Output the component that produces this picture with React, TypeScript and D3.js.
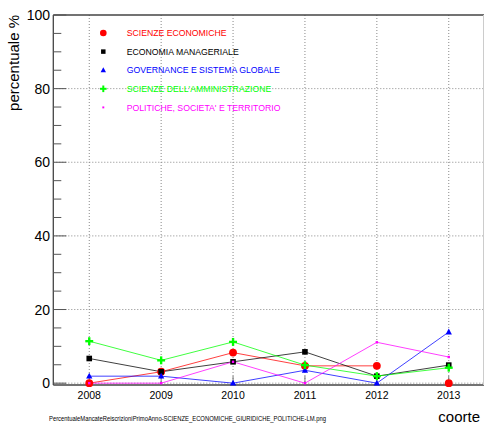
import React from "react";
import * as d3 from "d3";

const years = [2008, 2009, 2010, 2011, 2012, 2013];
const seriesNames = [
  "SCIENZE ECONOMICHE",
  "ECONOMIA MANAGERIALE",
  "GOVERNANCE E SISTEMA GLOBALE",
  "SCIENZE DELL'AMMINISTRAZIONE",
  "POLITICHE, SOCIETA' E TERRITORIO",
];
const seriesColors = ["#ff0000", "#000000", "#0000ff", "#00ff00", "#ff00ff"];
const seriesMarkers = ["circle", "square", "triangle", "cross", "star"];
const scienzeEconomiche = [0, 3.1, 8.3, 4.7, 4.7, 0];
const economiaManageriale = [6.7, 3.1, 5.8, 8.5, 1.9, 4.9];
const governance = [1.9, 1.9, 0, 3.5, 0, 13.9];
const scienzeAmministrazione = [11.4, 6.2, 11.2, 4.9, 1.9, 4.2];
const politiche = [0, 0, 5.8, 0, 11.1, 7.1];
// whether the line segment leading into each point is drawn
const scienzeEconomicheConnected = [true, true, true, true, true, false];
const allConnected = [true, true, true, true, true, true];
const seriesValues = [scienzeEconomiche, economiaManageriale, governance, scienzeAmministrazione, politiche];
const seriesConnected = [scienzeEconomicheConnected, allConnected, allConnected, allConnected, allConnected];
const yTicks = [0, 20, 40, 60, 80, 100];
const yMinorTicks = d3.range(0, 101, 5);

const W = 484;
const H = 424;
const left = 53.3;
const right = 484.7;
const top = 15;
const bottom = 385;

const FONT = "'Liberation Sans', Arial, Helvetica, sans-serif";

function Marker({ type, x, y, color, s }: { type: string; x: number; y: number; color: string; s: number }) {
  if (type === "circle") return <circle cx={x} cy={y} r={s * 0.85} fill={color} />;
  if (type === "square")
    return <rect x={x - s * 0.7} y={y - s * 0.7} width={s * 1.4} height={s * 1.4} fill={color} />;
  if (type === "triangle") {
    const h = s * 1.0;
    return (
      <path
        d={`M${x},${y - h} L${x + h * 0.9},${y + h * 0.7} L${x - h * 0.9},${y + h * 0.7} Z`}
        fill={color}
      />
    );
  }
  if (type === "cross") {
    const a = s * 1.1;
    const t = s * 0.33;
    return (
      <g fill={color}>
        <rect x={x - a} y={y - t} width={2 * a} height={2 * t} />
        <rect x={x - t} y={y - a} width={2 * t} height={2 * a} />
      </g>
    );
  }
  // star / small marker
  return <rect x={x - s * 0.4} y={y - s * 0.4} width={s * 0.8} height={s * 0.8} fill={color} />;
}

export default function App() {
  const x = d3.scaleLinear().domain([2007.5, 2013.5]).range([left, right]);
  const y = d3.scaleLinear().domain([-0.5, 100]).range([bottom, top]);

  return (
    <svg width={W} height={H} style={{ position: "absolute", left: 0, top: 0, background: "#fff" }}>
      <rect x={0} y={0} width={W} height={H} fill="#fff" />
      {/* grid */}
      {years.map((yr) => (
        <line key={"vg" + yr} x1={x(yr)} x2={x(yr)} y1={top} y2={bottom} stroke="#888" strokeWidth={1} strokeDasharray="1,2" />
      ))}
      {yTicks.slice(0, 5).map((v) => (
        <line key={"hg" + v} x1={left} x2={right} y1={y(v)} y2={y(v)} stroke="#888" strokeWidth={1} strokeDasharray="1,2" />
      ))}
      {/* frame */}
      <line x1={left} x2={W} y1={top} y2={top} stroke="#444" strokeWidth={1.3} />
      <line x1={left} x2={W} y1={bottom} y2={bottom} stroke="#444" strokeWidth={1.3} />
      <line x1={left} x2={left} y1={top} y2={bottom} stroke="#444" strokeWidth={1.3} />
      <line x1={483.5} x2={483.5} y1={top} y2={bottom} stroke="#ccc" strokeWidth={1} />
      {/* y ticks */}
      {yMinorTicks.map((v) => (
        <line
          key={"yt" + v}
          x1={left}
          x2={left + (v % 20 === 0 ? 13 : 8)}
          y1={y(v)}
          y2={y(v)}
          stroke="#555"
          strokeWidth={1}
        />
      ))}
      {yTicks.map((v) => (
        <text key={"yl" + v} x={50} y={y(v) + 5} textAnchor="end" fontFamily={FONT} fontSize={14} fill="#000">
          {v}
        </text>
      ))}
      {/* x ticks */}
      {years.map((yr) => (
        <g key={"xt" + yr}>
          <line x1={x(yr)} x2={x(yr)} y1={bottom} y2={bottom - 9} stroke="#777" strokeWidth={1} />
          <text x={x(yr)} y={399} textAnchor="middle" fontFamily={FONT} fontSize={10.5} fill="#000">
            {yr}
          </text>
        </g>
      ))}
      {/* series lines */}
      {seriesValues.map((vals, si) => {
        const conn = seriesConnected[si];
        const segs = [];
        for (let i = 1; i < vals.length; i++) {
          if (!conn[i]) continue;
          segs.push(
            <line
              key={i}
              x1={x(years[i - 1])}
              y1={y(vals[i - 1])}
              x2={x(years[i])}
              y2={y(vals[i])}
              stroke={seriesColors[si]}
              strokeOpacity={0.75}
              strokeWidth={1}
            />
          );
        }
        return <g key={"ln" + si}>{segs}</g>;
      })}
      {/* markers */}
      {seriesValues.map((vals, si) => (
        <g key={"mk" + si}>
          {vals.map((v, i) => (
            <Marker
              key={i}
              type={seriesMarkers[si]}
              x={x(years[i])}
              y={y(v)}
              color={seriesColors[si]}
              s={[4.6, 4, 3.5, 3.6, 3][si]}
            />
          ))}
        </g>
      ))}
      {/* legend */}
      {seriesNames.map((name, i) => {
        const ly = 33 + i * 18.6;
        return (
          <g key={"lg" + i}>
            <Marker type={seriesMarkers[i]} x={103.3} y={ly} color={seriesColors[i]} s={[3.9, 3.2, 3, 3, 2.4][i]} />
            <text x={126.7} y={ly + 3.2} fontFamily={FONT} fontSize={8.7} fill={seriesColors[i]}>
              {name}
            </text>
          </g>
        );
      })}
      {/* axis titles */}
      <text
        transform="translate(19,15) rotate(-90)"
        textAnchor="end"
        fontFamily={FONT}
        fontSize={15}
        fill="#000"
      >
        percentuale %
      </text>
      <text x={480} y={422} textAnchor="end" fontFamily={FONT} fontSize={15} fill="#000">
        coorte
      </text>
      <text x={49} y={421} fontFamily={FONT} fontSize={7} fill="#000" textLength={277} lengthAdjust="spacingAndGlyphs">
        PercentualeMancateReiscrizioniPrimoAnno-SCIENZE_ECONOMICHE_GIURIDICHE_POLITICHE-LM.png
      </text>
    </svg>
  );
}
